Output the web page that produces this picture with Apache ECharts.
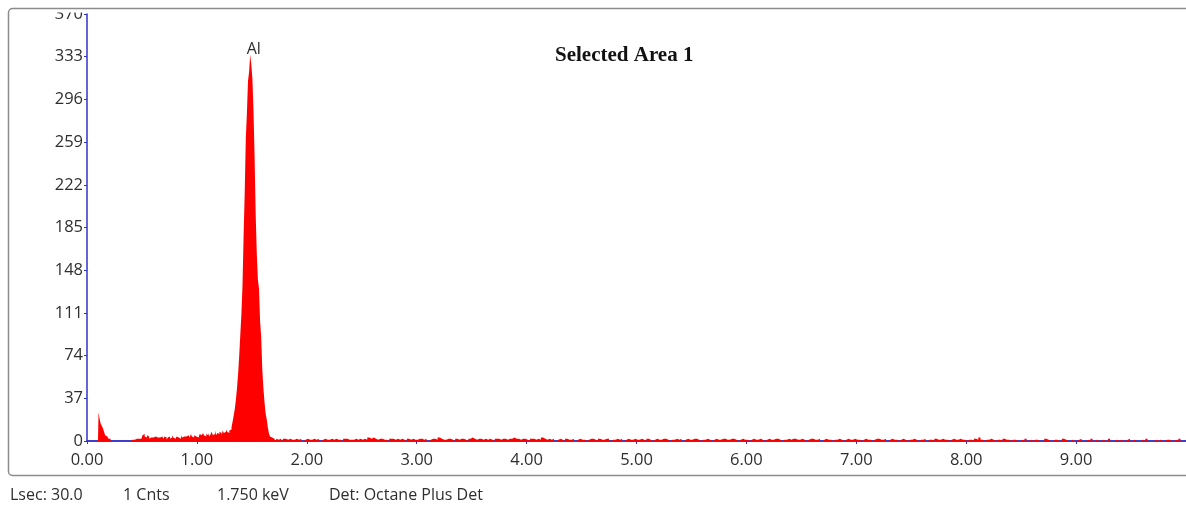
<!DOCTYPE html>
<html>
<head>
<meta charset="utf-8">
<style>
  html, body { margin: 0; padding: 0; background: #fff; }
  #chart { width: 1186px; height: 507px; }
</style>
<script src="https://cdn.jsdelivr.net/npm/echarts@6/dist/echarts.min.js"></script>
</head>
<body>
<div id="chart"></div>
<script>
// EDS spectrum, counts per energy channel (keV).
// Low-energy noise edge: 0.10 - 0.39 keV, 0.01 keV channels
const lowStart = 0.10;
const lowStep = 0.01;
const lowCounts = [
  0, 25, 19, 15, 13, 11, 8, 5, 4, 3,
  2, 2, 0, 0, 0, 0, 0, 0, 0, 0,
  0, 0, 0, 0, 0, 0, 0, 0, 0, 0
];

// Bremsstrahlung floor and the Al K peak: 0.40 - 1.79 keV, 0.01 keV channels
const peakStart = 0.40;
const peakStep = 0.01;
const peakCounts = [
  0, 1, 2, 1, 0, 2, 1, 2, 3, 2,
  3, 5, 6, 4, 3, 5, 4, 2, 3, 4,
  3, 2, 4, 5, 3, 4, 3, 2, 4, 3,
  2, 4, 3, 1, 3, 4, 2, 3, 5, 3,
  2, 3, 4, 3, 4, 2, 5, 3, 4, 3,
  4, 3, 5, 4, 3, 6, 4, 3, 5, 4,
  5, 3, 4, 6, 5, 4, 7, 5, 4, 6,
  5, 7, 4, 6, 8, 5, 6, 9, 5, 7,
  6, 8, 7, 5, 9, 7, 8, 10, 8, 7,
  9, 10, 12, 17, 22, 28, 36, 46, 58, 74,
  92, 110, 135, 178, 215, 262, 284, 312, 320, 335,
  326, 314, 286, 246, 196, 162, 140, 132, 104, 90,
  62, 46, 34, 24, 19, 12, 7, 4, 3, 2,
  2, 1, 0, 2, 1, 0, 2, 1, 0, 2
];

// Background tail: 1.80 - 9.98 keV, 0.02 keV channels
const tailStart = 1.80;
const tailStep = 0.02;
const tailCounts = [
  2, 1, 2, 1, 1, 2, 1, 2, 0, 1, 2, 1, 1, 2, 1, 2, 0, 1, 2, 1,
  1, 2, 1, 2, 1, 1, 0, 2, 2, 1, 1, 1, 2, 1, 2, 1, 2, 1, 3, 2,
  3, 2, 1, 2, 2, 1, 1, 0, 2, 2,
  1, 2, 1, 2, 1, 0, 2, 1, 2, 1, 1, 2, 2, 1, 2, 0, 1, 2, 2, 1,
  3, 2, 1, 1, 2, 2, 1, 0, 2, 1, 2, 2, 1, 0, 2, 3, 2, 1, 2, 2,
  1, 2, 1, 2, 1, 0, 2, 2, 1, 2,
  2, 1, 2, 2, 3, 2, 2, 1, 2, 2, 1, 0, 2, 2, 1, 2, 1, 3, 2, 1,
  2, 1, 2, 0, 1, 2, 1, 0, 2, 1, 1, 2, 0, 1, 2, 1, 1, 0, 1, 2,
  2, 1, 0, 2, 1, 1, 2, 2, 0, 1,
  1, 2, 1, 2, 0, 1, 2, 1, 1, 2, 1, 1, 2, 1, 0, 2, 1, 0, 1, 2,
  1, 1, 2, 2, 1, 0, 1, 1, 2, 1, 2, 0, 1, 2, 1, 1, 2, 2, 1, 0,
  1, 1, 2, 1, 0, 1, 2, 1, 1, 2,
  2, 1, 1, 2, 2, 1, 0, 1, 2, 1, 1, 0, 1, 2, 1, 1, 2, 1, 0, 1,
  2, 1, 1, 2, 2, 1, 0, 1, 1, 2, 1, 2, 2, 1, 1, 2, 1, 0, 1, 2,
  2, 1, 1, 2, 0, 1, 2, 1, 1, 0,
  1, 1, 2, 1, 0, 1, 2, 1, 1, 2, 1, 1, 0, 1, 2, 1, 1, 0, 1, 2,
  2, 1, 1, 2, 0, 1, 2, 1, 1, 0, 1, 2, 1, 0, 1, 1, 2, 1, 0, 1,
  1, 2, 0, 1, 1, 0, 2, 1, 1, 2,
  1, 1, 0, 1, 2, 1, 1, 2, 1, 1, 0, 1, 1, 0, 2, 1, 3, 1, 0, 1,
  1, 2, 1, 0, 1, 1, 0, 2, 1, 1, 0, 1, 1, 0, 0, 1, 0, 2, 0, 1,
  0, 1, 1, 0, 0, 0, 2, 1, 0, 0,
  1, 1, 0, 0, 2, 1, 0, 0, 1, 0, 0, 1, 2, 0, 0, 1, 0, 2, 0, 1,
  0, 0, 1, 0, 0, 2, 0, 0, 1, 0, 1, 0, 0, 1, 2, 0, 1, 0, 0, 0,
  1, 0, 2, 0, 0, 0, 1, 0, 1, 0,
  0, 1, 1, 0, 0, 1, 0, 2, 0, 0
];

// Axis scales
const yTicks = [0, 37, 74, 111, 148, 185, 222, 259, 296, 333, 370];
const xMin = 0, xMax = 10, xStep = 1;

// Annotations
const titleText = 'Selected Area 1';
const peakLabel = { name: 'Al', energy: 1.49, counts: 335 };
const statusItems = ['Lsec: 30.0', '1 Cnts', '1.750 keV', 'Det: Octane Plus Det'];

function channels(start, step, counts) {
  return counts.map((c, i) => [Number((start + i * step).toFixed(2)), c]);
}
const spectrum = []
  .concat(channels(lowStart, lowStep, lowCounts))
  .concat(channels(peakStart, peakStep, peakCounts))
  .concat(channels(tailStart, tailStep, tailCounts));

const axisBlue = '#3232c8';
const textColor = '#2e2e2e';
const uiFont = 'Open Sans';

const statusX = [10, 123, 217, 329];

const chart = echarts.init(document.getElementById('chart'), null, { renderer: 'canvas' });
chart.setOption({
  animation: false,
  backgroundColor: '#ffffff',
  grid: { left: 87, right: 0, top: 14, bottom: 66, containLabel: false },
  xAxis: [{
    type: 'value',
    min: xMin, max: xMax, interval: xStep,
    axisLine: { show: true, onZero: false, lineStyle: { color: axisBlue, width: 1.5 } },
    axisTick: { show: true, length: 3, lineStyle: { color: axisBlue } },
    axisLabel: {
      margin: 11, color: textColor, fontFamily: uiFont, fontSize: 16.5,
      showMaxLabel: false,
      formatter: v => v.toFixed(2)
    },
    splitLine: { show: false }
  }, {
    type: 'value', position: 'top',
    min: xMin, max: xMax,
    axisLine: { show: true, lineStyle: { color: axisBlue, width: 1.5 } },
    axisTick: { show: false }, axisLabel: { show: false }, splitLine: { show: false }
  }],
  yAxis: {
    type: 'value',
    min: yTicks[0], max: yTicks[yTicks.length - 1], interval: yTicks[1] - yTicks[0],
    axisLine: { show: true, lineStyle: { color: axisBlue, width: 1.5 } },
    axisTick: { show: true, length: 3, lineStyle: { color: axisBlue } },
    axisLabel: { margin: 4, color: textColor, fontFamily: uiFont, fontSize: 16.5 },
    splitLine: { show: false }
  },
  series: [{
    type: 'line',
    xAxisIndex: 0,
    data: spectrum,
    step: 'middle',
    showSymbol: false,
    symbol: 'none',
    lineStyle: { width: 0, color: '#ff0000' },
    areaStyle: { color: '#ff0000', opacity: 1 },
    itemStyle: { color: '#ff0000' },
    markPoint: {
      symbol: 'circle',
      symbolSize: 0,
      data: [{ coord: [peakLabel.energy, peakLabel.counts], value: peakLabel.name }],
      label: {
        show: true, position: 'top', distance: 0, offset: [3, 3],
        formatter: peakLabel.name,
        color: textColor, fontFamily: uiFont, fontSize: 16
      }
    }
  }],
  graphic: [
    {
      type: 'text', left: 555, top: 45, z: 10,
      style: { text: titleText, fill: '#111', font: 'bold 21px "Liberation Serif"' }
    },
    {
      // hide the part of the top tick label that spills above the frame
      type: 'rect', z: 20,
      shape: { x: 20, y: 0, width: 64, height: 12.5 },
      style: { fill: '#ffffff' }
    },
    {
      type: 'rect', z: 30,
      shape: { x: 8.5, y: 8.5, width: 1200, height: 467, r: 4 },
      style: { fill: 'none', stroke: '#8c8c8c', lineWidth: 1.5 }
    }
  ].concat(statusItems.map((t, i) => ({
    type: 'text', left: statusX[i], top: 487, z: 10,
    style: { text: t, fill: textColor, font: '16px "Open Sans"' }
  })))
});
</script>
</body>
</html>
